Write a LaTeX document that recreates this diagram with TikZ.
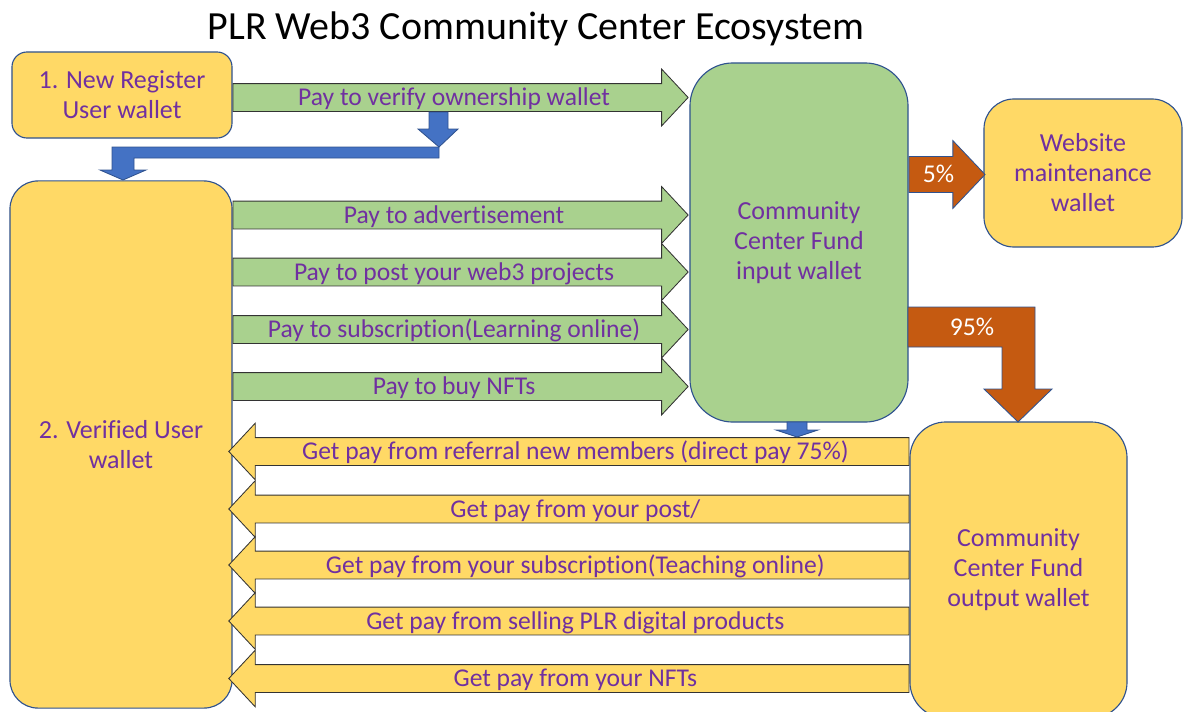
\documentclass[tikz,border=0pt]{standalone}
\usepackage{fontspec}
\setmainfont{Carlito}[Ligatures=NoCommon]
\usetikzlibrary{shapes.arrows}

\definecolor{walletyellow}{HTML}{FFD966}
\definecolor{fundgreen}{HTML}{A9D18E}
\definecolor{textpurple}{HTML}{7030A0}
\definecolor{shareorange}{HTML}{C55A11}
\definecolor{flowblue}{HTML}{4472C4}
\definecolor{edgeblue}{HTML}{2F528F}

\newcommand{\boxfont}{\fontsize{18.5}{21.3}\selectfont}
\newcommand{\arrowfont}{\fontsize{18.2}{21}\selectfont}

\tikzset{
  wallet/.style={draw=edgeblue, line width=0.8pt, fill=walletyellow, text=textpurple, align=center, font=\boxfont},
  fundbox/.style={wallet, fill=fundgreen},
  payarrow/.style={single arrow, draw=black!80, line width=0.6pt, fill=fundgreen, text=textpurple, font=\arrowfont,
    single arrow head extend=0.3625cm, single arrow tip angle=94, minimum height=11.375cm,
    text height=14pt, text depth=2pt, inner ysep=1.6pt, anchor=tail},
  getarrow/.style={payarrow, fill=walletyellow, shape border rotate=180, minimum height=17cm},
  sharearrow/.style={single arrow, draw=edgeblue, line width=0.6pt, fill=shareorange, text=white, font=\arrowfont,
    single arrow head extend=0.4cm, single arrow tip angle=93, minimum height=1.9cm,
    text height=14pt, text depth=2pt, inner ysep=4.45pt, anchor=tail},
  flow/.style={draw=edgeblue, line width=0.6pt, fill=flowblue},
  share/.style={draw=edgeblue, line width=0.6pt, fill=shareorange}
}

\begin{document}
\begin{tikzpicture}[x=0.025cm, y=-0.025cm]
\useasboundingbox (0,0) rectangle (1183,711);

\node[font=\fontsize{28.4}{32}\selectfont] (title) at (536,29) {PLR Web3 Community Center Ecosystem};

% wallets
\node[wallet, minimum width=5.5cm, minimum height=2.15cm, rounded corners=0.375cm] (reg) at (122,95) {1. New Register\\User wallet};
\node[wallet, minimum width=5.55cm, minimum height=13.175cm, rounded corners=0.7cm] (ver) at (121,444.5) {2. Verified User\\wallet};
\node[fundbox, minimum width=5.45cm, minimum height=8.975cm, rounded corners=1.075cm] (fund) at (799,242.5) {Community\\Center Fund\\input wallet};
\node[wallet, minimum width=4.95cm, minimum height=3.7cm, rounded corners=0.75cm] (web) at (1083,173) {Website\\maintenance\\wallet};
\node[wallet, minimum width=5.425cm, minimum height=7.4cm, rounded corners=0.9cm] (out) at (1018.5,570) {Community\\Center Fund\\output wallet};

% pay in
\node[payarrow] (verify) at (reg.east |- 0,97.5) {Pay to verify ownership wallet};
\node[payarrow] (advert) at (ver.east |- 0,215) {Pay to advertisement};
\node[payarrow] (post) at (ver.east |- 0,272) {Pay to post your web3 projects};
\node[payarrow] (learn) at (ver.east |- 0,329.5) {Pay to subscription(Learning online)};
\node[payarrow] (nfts) at (ver.east |- 0,386.5) {Pay to buy NFTs};

% get paid
\node[getarrow] (referral) at (out.west |- 0,451.5) {Get pay from referral new members (direct pay 75\%)};
\node[getarrow] (yourpost) at (out.west |- 0,509) {Get pay from your post/};
\node[getarrow] (teach) at (out.west |- 0,565) {Get pay from your subscription(Teaching online)};
\node[getarrow] (selling) at (out.west |- 0,621) {Get pay from selling PLR digital products};
\node[getarrow] (yournfts) at (out.west |- 0,678.5) {Get pay from your NFTs};

% verify -> verified user
\draw[flow] (429,112) -- (448,112) -- (448,129) -- (458,129) -- (439,147) -- (418,129) -- (429,129) -- cycle;
\draw[flow] (439,147) -- (439,158) -- (134,158) -- (134,170) -- (146,170) -- (123,180) -- (100,170) -- (112,170) -- (112,147) -- cycle;

% fund -> referral
\draw[flow] (787,422) -- (807,422) -- (807,430) -- (818,430) -- (797,437) -- (776,430) -- (787,430) -- cycle;

% shares
\node[sharearrow] (five) at (fund.east |- 0,174.5) {5\%};
\draw[share] (908,307) -- (1035,307) -- (1035,389) -- (1052,389) -- (1018,422) -- (984,389) -- (1002,389) -- (1002,347) -- (908,347) -- cycle;
\node[text=white, font=\arrowfont] (ninetyfive) at (972,327) {95\%};

\end{tikzpicture}
\end{document}
